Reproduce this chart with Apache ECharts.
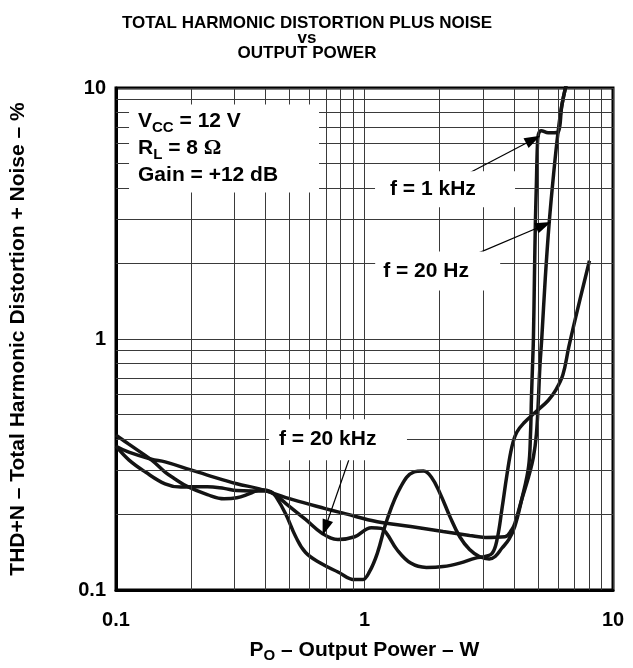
<!DOCTYPE html>
<html>
<head>
<meta charset="utf-8">
<script src="https://cdn.jsdelivr.net/npm/echarts@6/dist/echarts.min.js"></script>
<style>
  html, body { margin: 0; background: #fff; }
  #chart { width: 633px; height: 668px; }
</style>
</head>
<body>
<div id="chart"></div>
<script>
// tick labels (decades)
const xTickLabels = ['0.1', '1', '10'];
const yTickLabels = ['0.1', '1', '10'];
// minor grid lines inside each decade
const minorGrid = [0.2, 0.3, 0.4, 0.5, 0.6, 0.7, 0.8, 0.9, 2, 3, 4, 5, 6, 7, 8, 9];

// f = 1 kHz
const power1k = [0.1, 0.1126, 0.1388, 0.1576, 0.1727, 0.1943, 0.2331, 0.2721, 0.3063, 0.3448,
  0.3846, 0.4212, 0.4408, 0.4829, 0.5288, 0.5792, 0.6641, 0.7821, 0.913, 0.982,
  1.046, 1.126, 1.233, 1.4, 1.576, 1.727, 1.857, 2.016, 2.207, 2.417,
  2.648, 2.901, 3.177, 3.356, 3.576, 3.811, 4.025, 4.29, 4.572, 4.656,
  4.698, 4.741, 4.784, 4.828, 4.872, 4.917, 4.962, 5.007, 5.145, 5.484,
  5.79, 6.03, 6.23, 6.55];
const thd1k = [0.414, 0.381, 0.33, 0.295, 0.277, 0.258, 0.24, 0.231, 0.233, 0.242,
  0.251, 0.246, 0.235, 0.2, 0.163, 0.141, 0.128, 0.118, 0.11, 0.11,
  0.118, 0.14, 0.191, 0.258, 0.295, 0.298, 0.282, 0.242, 0.196, 0.163,
  0.145, 0.136, 0.133, 0.136, 0.147, 0.159, 0.179, 0.229, 0.309, 0.417,
  0.585, 0.768, 1.01, 1.74, 2.93, 4.14, 5.85, 6.52, 6.76, 6.64,
  6.64, 6.7, 8.57, 10.76];

// f = 20 Hz
const power20 = [0.1, 0.1126, 0.1388, 0.1576, 0.1998, 0.2331, 0.3063, 0.3776, 0.5145, 0.695,
  0.834, 1.126, 1.534, 2.071, 2.648, 3.063, 3.675, 3.916, 4.025, 4.29,
  4.572, 4.784, 4.917, 5.007, 5.076, 5.17, 5.338, 5.536, 5.766, 6.007,
  6.23, 6.55];
const thd20 = [0.374, 0.354, 0.332, 0.324, 0.301, 0.287, 0.265, 0.253, 0.229, 0.211,
  0.2015, 0.187, 0.179, 0.171, 0.165, 0.162, 0.163, 0.174, 0.184, 0.229,
  0.282, 0.339, 0.417, 0.569, 0.768, 1.01, 1.74, 2.9, 4.53, 6.64,
  8.57, 10.76];

// f = 20 kHz
const power20k = [0.1, 0.1126, 0.1314, 0.1576, 0.1823, 0.1998, 0.2331, 0.2721, 0.3063, 0.3511,
  0.4025, 0.4408, 0.4829, 0.5792, 0.6761, 0.7821, 0.913, 1.066, 1.167, 1.233,
  1.35, 1.534, 1.774, 2.071, 2.417, 2.797, 3.063, 3.265, 3.416, 3.576,
  3.742, 3.916, 4.1, 4.409, 4.917, 5.484, 5.899, 6.286, 6.64, 7.076,
  8.04];
const thd20k = [0.374, 0.33, 0.295, 0.265, 0.257, 0.258, 0.258, 0.254, 0.249, 0.248,
  0.248, 0.238, 0.221, 0.191, 0.168, 0.159, 0.163, 0.177, 0.176, 0.167,
  0.145, 0.128, 0.123, 0.124, 0.128, 0.134, 0.136, 0.14, 0.159, 0.211,
  0.287, 0.371, 0.425, 0.466, 0.515, 0.569, 0.629, 0.72, 0.93, 1.22,
  2.05];

// annotation anchors (data units): label box centres and arrow tail / head
const boxVcc = [0.2721, 5.741];
const box1k = [2.109, 3.953];
const box20 = [1.97, 1.866];
const box20k = [0.7821, 0.3971];
const arrow1k = [[2.673, 4.613], [4.772, 6.24]];
const arrow20 = [[2.772, 2.168], [5.264, 2.841]];
const arrow20k = [[0.8645, 0.3295], [0.695, 0.1769]];

const FONT = 'Liberation Sans, Arial, Helvetica, sans-serif';
const toPairs = (xs, ys) => xs.map((x, i) => [x, ys[i]]);
const decadeLabel = labels => v => labels[Math.round(Math.log10(v)) + 1];

const chart = echarts.init(document.getElementById('chart'));

const curve = (name, xs, ys) => ({
  name,
  type: 'line',
  data: toPairs(xs, ys),
  smooth: 0.4,
  symbol: 'none',
  silent: true,
  z: 3,
  lineStyle: { color: '#141414', width: 3.5 }
});

const bold = { fontFamily: FONT, fontWeight: 'bold', fontSize: 21, color: '#000' };

const labelBox = (coord, size, text, dist) => ({
  coord,
  symbol: 'rect',
  symbolSize: size,
  itemStyle: { color: '#fff' },
  label: {
    show: true,
    position: 'insideLeft',
    distance: dist,
    formatter: text,
    ...bold,
    lineHeight: 27,
    rich: {
      b: { ...bold, lineHeight: 27 },
      s: { ...bold, fontSize: 15, lineHeight: 18, verticalAlign: 'bottom' },
      o: { fontFamily: 'Liberation Serif, Times New Roman, serif', fontSize: 22, color: '#000', lineHeight: 27 }
    }
  }
});

const arrow = a => [
  { coord: a[0], symbol: 'none' },
  { coord: a[1], symbol: 'triangle', symbolSize: [11, 16] }
];

chart.setOption({
  animation: false,
  backgroundColor: '#fff',
  title: {
    text: 'TOTAL HARMONIC DISTORTION PLUS NOISE\nvs\nOUTPUT POWER',
    left: 302,
    top: 11,
    textAlign: 'center',
    textStyle: { fontFamily: FONT, fontWeight: 'bold', fontSize: 17, lineHeight: 15, color: '#000' }
  },
  grid: {
    left: 107, top: 88, right: 20, bottom: 74,
    show: true, borderColor: '#000', borderWidth: 3
  },
  xAxis: {
    type: 'log', logBase: 10, min: 0.1, max: 10,
    name: '{a|P}{s|O}{a| – Output Power – W}',
    nameLocation: 'middle', nameGap: 47,
    nameTextStyle: {
      rich: {
        a: { ...bold, lineHeight: 26 },
        s: { ...bold, fontSize: 15, lineHeight: 16, verticalAlign: 'bottom' }
      }
    },
    axisLine: { show: true, lineStyle: { color: '#000', width: 3 } },
    axisTick: { show: false },
    axisLabel: { ...bold, fontSize: 20, margin: 20, formatter: decadeLabel(xTickLabels) },
    splitLine: { show: true, lineStyle: { color: '#3a3a3a', width: 1 } }
  },
  yAxis: {
    type: 'log', logBase: 10, min: 0.1, max: 10,
    name: 'THD+N – Total Harmonic Distortion + Noise – %',
    nameLocation: 'middle', nameGap: 87, nameRotate: 90,
    nameTextStyle: { ...bold },
    axisLine: { show: true, lineStyle: { color: '#000', width: 3 } },
    axisTick: { show: false },
    axisLabel: { ...bold, fontSize: 20, margin: 10, formatter: decadeLabel(yTickLabels) },
    splitLine: { show: true, lineStyle: { color: '#3a3a3a', width: 1 } }
  },
  series: [
    {
      name: 'grid',
      type: 'line',
      data: [[0.1, 0.1]],
      symbol: 'none',
      silent: true,
      z: 1,
      lineStyle: { opacity: 0 },
      markLine: {
        silent: true,
        symbol: 'none',
        animation: false,
        label: { show: false },
        lineStyle: { color: '#3a3a3a', width: 1, type: 'solid' },
        data: [
          ...minorGrid.map(v => ({ xAxis: v })),
          ...minorGrid.map(v => ({ yAxis: v }))
        ]
      }
    },
    {
      name: 'notes',
      type: 'line',
      data: [[0.1, 0.1]],
      symbol: 'none',
      silent: true,
      z: 2,
      lineStyle: { opacity: 0 },
      markPoint: {
        silent: true,
        animation: false,
        data: [
          labelBox(boxVcc, [190, 88], '{b|V}{s|CC}{b| = 12 V}\n{b|R}{s|L}{b| = 8 }{o|Ω}\n{b|Gain = +12 dB}', 9),
          labelBox(box1k, [140, 36], '{b|f = 1 kHz}', 15),
          labelBox(box20, [125, 39], '{b|f = 20 Hz}', 8),
          labelBox(box20k, [138, 41], '{b|f = 20 kHz}', 10)
        ]
      },
      markLine: {
        silent: true,
        animation: false,
        label: { show: false },
        lineStyle: { color: '#000', width: 1.2, type: 'solid' },
        itemStyle: { color: '#000' },
        data: [arrow(arrow1k), arrow(arrow20), arrow(arrow20k)]
      }
    },
    curve('f = 1 kHz', power1k, thd1k),
    curve('f = 20 Hz', power20, thd20),
    curve('f = 20 kHz', power20k, thd20k)
  ]
});
</script>
</body>
</html>
